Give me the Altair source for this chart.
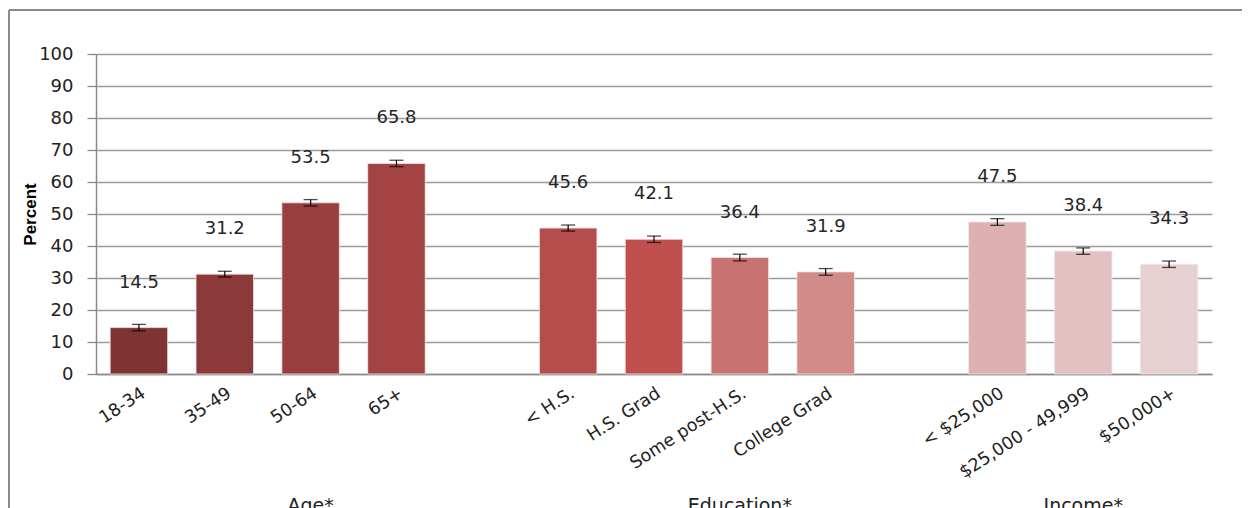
import altair as alt
import pandas as pd

# ---- data ----
age_labels = ["18-34", "35-49", "50-64", "65+"]
age_values = [14.5, 31.2, 53.5, 65.8]
age_err = [1.0, 0.9, 1.0, 1.0]

edu_labels = ["< H.S.", "H.S. Grad", "Some post-H.S.", "College Grad"]
edu_values = [45.6, 42.1, 36.4, 31.9]
edu_err = [0.95, 1.0, 1.05, 1.05]

inc_labels = ["< $25,000", "$25,000 - 49,999", "$50,000+"]
inc_values = [47.5, 38.4, 34.3]
inc_err = [1.05, 1.0, 1.0]

bar_colors = ["#7F3333", "#8B3939", "#993E3E", "#A44343",
              "#B44D4B", "#C0504D", "#C87371", "#D18B89",
              "#DDB1B2", "#E2C1C3", "#E7D0D1"]

y_ticks = [0, 10, 20, 30, 40, 50, 60, 70, 80, 90, 100]

group_titles = ["Age*", "Education*", "Income*"]
group_anchor = ["50-64", "Some post-H.S.", "$25,000 - 49,999"]

gap1, gap2 = " ", "  "
domain = age_labels + [gap1] + edu_labels + [gap2] + inc_labels

cats = age_labels + edu_labels + inc_labels
vals = age_values + edu_values + inc_values
errs = age_err + edu_err + inc_err
df = pd.DataFrame({
    "cat": cats,
    "value": vals,
    "lo": [v - e for v, e in zip(vals, errs)],
    "hi": [v + e for v, e in zip(vals, errs)],
    "label": [f"{v:.1f}" for v in vals],
})
groups = pd.DataFrame({"cat": group_anchor, "title": group_titles})
one = pd.DataFrame({"k": [0]})

W, H = 1116, 320
FONT = "DejaVu Sans"

xscale = alt.Scale(domain=domain, paddingInner=0.33, paddingOuter=0.165)
x_axis = alt.Axis(title=None, labelAngle=-33, labelAlign="right",
                  labelBaseline="top", ticks=False, labelPadding=10,
                  domainColor="#8a8a8a", domainWidth=1.5,
                  labelFont=FONT, labelFontSize=17.5, labelColor="#222222")
yscale = alt.Scale(domain=[0, 100], nice=False)
y_axis = alt.Axis(values=y_ticks, tickCount=len(y_ticks) + 1, labelOverlap=False,
                  grid=True, gridColor="#9c9c9c", gridWidth=1.3,
                  domainColor="#8a8a8a", domainWidth=1.5,
                  tickColor="#8a8a8a", tickSize=9, tickWidth=1.3,
                  labelFont=FONT, labelFontSize=18, labelColor="#222222",
                  labelPadding=14,
                  title="Percent", titleFont="Liberation Sans",
                  titleFontWeight="bold", titleFontSize=17,
                  titleColor="#000000", titleAngle=-90,
                  titleX=-66, titleY=H / 2, titleAlign="center",
                  titleBaseline="middle")

def X():
    return alt.X("cat:N", scale=xscale, sort=domain, axis=x_axis)

def Y(field):
    return alt.Y(field, scale=yscale, axis=y_axis)

base = alt.Chart(df)

bars = base.mark_bar(stroke="#f4e6e6", strokeWidth=0.8).encode(
    x=X(), y=Y("value:Q"),
    color=alt.Color("cat:N", scale=alt.Scale(domain=cats, range=bar_colors), legend=None),
)
err_rule = base.mark_rule(color="#000000", strokeWidth=1.2).encode(
    x=X(), y=Y("lo:Q"), y2="hi:Q")
cap_lo = base.mark_tick(color="#000000", size=14, thickness=1.3).encode(
    x=X(), y=Y("lo:Q"))
cap_hi = base.mark_tick(color="#000000", size=14, thickness=1.3).encode(
    x=X(), y=Y("hi:Q"))
labels = base.mark_text(dy=-45, baseline="middle", font=FONT, fontSize=18,
                        color="#262626").encode(
    x=X(), y=Y("value:Q"), text="label:N")

group_text = alt.Chart(groups).mark_text(dy=123, baseline="top", font=FONT,
                                         fontSize=19, color="#222222").encode(
    x=X(), y=alt.YDatum(0), text="title:N")

frame_left = alt.Chart(one).mark_rule(color="#8a8a8a", strokeWidth=2).encode(
    x=alt.value(-87), y=alt.value(-44), y2=alt.value(600))
frame_top = alt.Chart(one).mark_rule(color="#8a8a8a", strokeWidth=2).encode(
    x=alt.value(-87), x2=alt.value(1300), y=alt.value(-44))

chart = alt.layer(
    bars, err_rule, cap_lo, cap_hi, labels, group_text, frame_left, frame_top
).properties(
    width=W, height=H,
    autosize=alt.AutoSizeParams(type="none"),
    padding={"left": 88, "top": 46, "right": 30, "bottom": 134},
).configure_view(strokeWidth=0)

chart.save("out.html", embed_options={"renderer": "svg", "actions": False})
